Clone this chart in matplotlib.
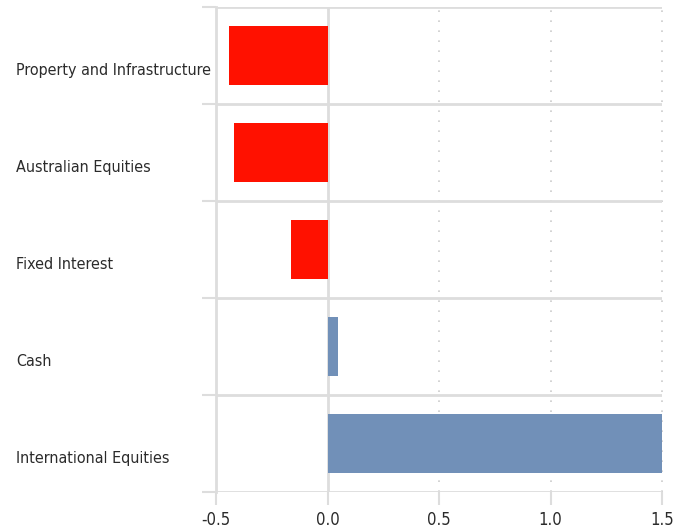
import matplotlib
matplotlib.use("Agg")
import matplotlib.pyplot as plt
from matplotlib.ticker import FixedLocator

plt.rcParams["font.family"] = ["DejaVu Sans"]
plt.rcParams["font.stretch"] = "condensed"

categories = ["Property and Infrastructure", "Australian Equities", "Fixed Interest", "Cash", "International Equities"]
values = [-0.44, -0.42, -0.165, 0.045, 1.5]
x_ticks = [-0.5, 0.0, 0.5, 1.0, 1.5]
x_tick_labels = ["-0.5", "0.0", "0.5", "1.0", "1.5"]

RED = "#ff1100"
BLUE = "#7190b8"
GRID = "#dddddd"
TEXT = "#2b2b2b"

fig = plt.figure(figsize=(6.75, 5.32), dpi=100)
ax = fig.add_axes([216 / 675, 1 - 492 / 532, (662 - 216) / 675, (492 - 7) / 532])

pos = list(range(len(categories)))
colors = [RED if v < 0 else BLUE for v in values]
ax.barh(pos, values, height=0.61, color=colors, zorder=3)

ax.set_xlim(-0.5, 1.5)
ax.set_ylim(len(categories) - 0.5, -0.5)

# category boundaries as grid + outward minor ticks
bounds = [i - 0.5 for i in range(len(categories) + 1)]
ax.yaxis.set_minor_locator(FixedLocator(bounds))
ax.grid(True, which="minor", axis="y", color=GRID, linewidth=2, zorder=1)
ax.tick_params(axis="y", which="minor", length=10, width=1.5, color=GRID, direction="out")

# category labels sit a little below the bar centre, left aligned
ax.set_yticks([])
label_x = (16 - 216) / (662 - 216)
for p, name in zip(pos, categories):
    ax.text(label_x, p + 0.15, name, transform=ax.get_yaxis_transform(),
            ha="left", va="center", fontsize=11.5, color=TEXT)

ax.set_xticks(x_ticks)
ax.set_xticklabels(x_tick_labels, fontsize=12, color=TEXT)
ax.tick_params(axis="x", which="major", length=9.5, width=1.5, color=GRID, direction="out", pad=4)

for x in x_ticks[2:]:
    ax.axvline(x, color="#cccccc", linewidth=1.2, linestyle=(0, (1, 5)), zorder=1, clip_on=False)
ax.axvline(0.0, color=GRID, linewidth=2, zorder=2)

for side in ["top", "right", "bottom"]:
    ax.spines[side].set_visible(False)
ax.spines["left"].set_color(GRID)
ax.spines["left"].set_linewidth(2)

fig.savefig("out.png", dpi=100)
